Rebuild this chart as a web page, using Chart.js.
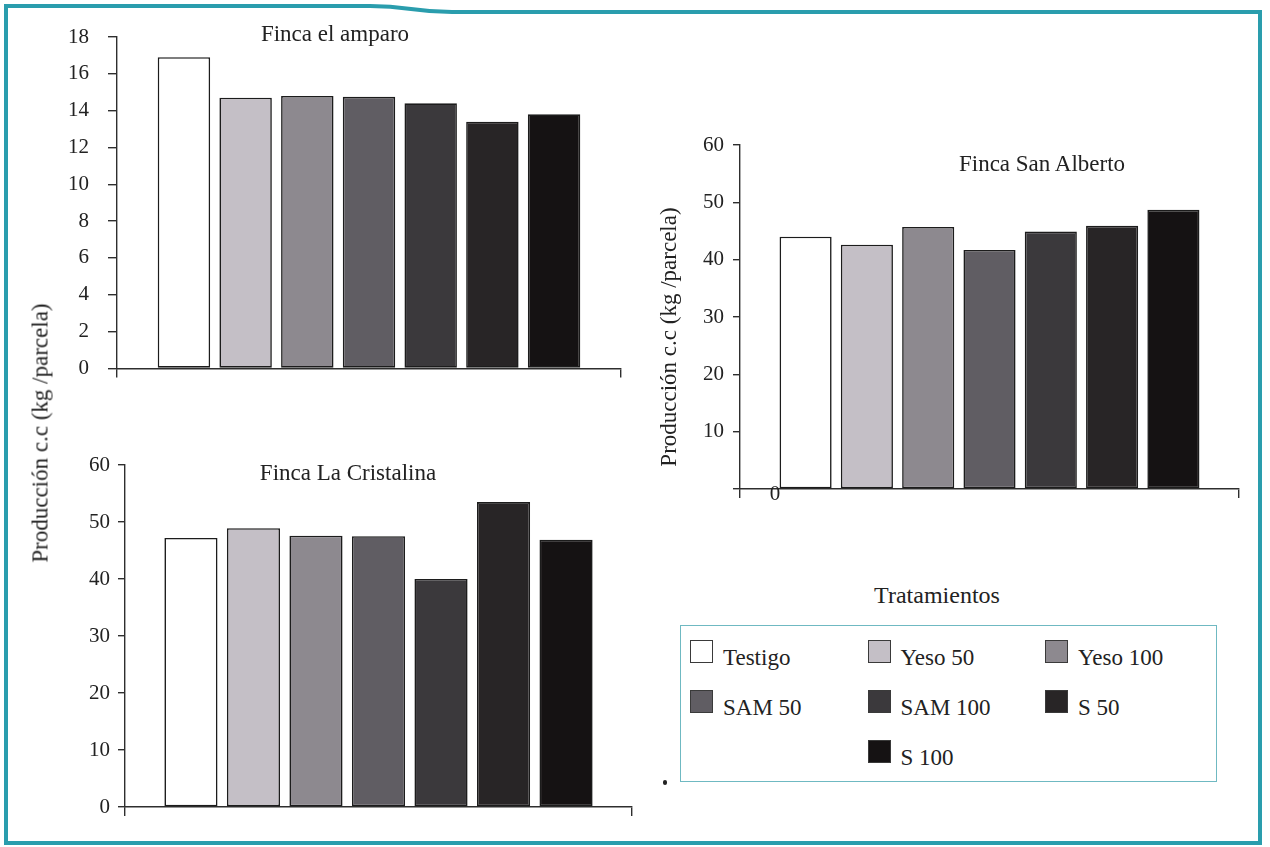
<!DOCTYPE html>
<html>
<head>
<meta charset="utf-8">
<script src="https://cdn.jsdelivr.net/npm/chart.js@4.4.1/dist/chart.umd.min.js"></script>
<style>
  html, body { margin: 0; padding: 0; background: #ffffff; }
  body {
    width: 1270px; height: 847px; position: relative; overflow: hidden;
    font-family: "Liberation Serif", "Times New Roman", serif; color: #222222;
  }
  .plot { position: absolute; }
  .frame { position: absolute; left: 0; top: 0; pointer-events: none; }
  .ytitle {
    position: absolute; font-size: 23px; white-space: nowrap; line-height: 1;
    transform: translate(-50%, -50%) rotate(-90deg);
  }
  .ctitle {
    position: absolute; font-size: 23px; line-height: 23px; white-space: nowrap;
    transform: translateX(-50%);
  }
  #legendTitle {
    position: absolute; left: 937px; top: 583px; font-size: 24px; line-height: 24px;
    transform: translateX(-50%); white-space: nowrap;
  }
  #legendBox {
    position: absolute; left: 680px; top: 625px; width: 537px; height: 157px;
    box-sizing: border-box; border: 1.5px solid #6fb9c2;
    padding: 14px 0 0 9px;
    display: grid; grid-template-columns: repeat(3, 177.5px); grid-auto-rows: 50px;
  }
  .item { display: flex; align-items: flex-start; }
  .swatch { width: 23px; height: 23px; box-sizing: border-box; border: 1.5px solid #3a3a3a; flex: none; }
  .label { font-size: 23px; line-height: 23px; margin-left: 10px; margin-top: 6px; white-space: nowrap; }
  #dot { position: absolute; left: 663px; top: 780px; width: 4px; height: 5px; border-radius: 2px; background: #222; }
</style>
</head>
<body>

<svg class="frame" width="1270" height="847">
  <path d="M6,843 L6,6 L370,6 C410,6 412,12 452,12 L1260,12 L1260,843 Z"
        fill="none" stroke="#2a9dad" stroke-width="4"/>
</svg>

<canvas id="amparo" class="plot" width="640" height="400" style="left:0px;top:0px;"></canvas>
<canvas id="cristalina" class="plot" width="650" height="420" style="left:0px;top:420px;"></canvas>
<canvas id="sanAlberto" class="plot" width="610" height="420" style="left:650px;top:100px;"></canvas>

<div class="ctitle" style="left:335px;top:22px;">Finca el amparo</div>
<div class="ctitle" style="left:348px;top:461px;">Finca La Cristalina</div>
<div class="ctitle" style="left:1042px;top:152px;">Finca San Alberto</div>

<div class="ytitle" style="left:40px;top:433px;">Producción c.c (kg /parcela)</div>
<div class="ytitle" style="left:668px;top:337px;">Producción c.c (kg /parcela)</div>

<div id="legendTitle">Tratamientos</div>
<div id="legendBox"></div>
<div id="dot"></div>

<script>
// Treatments (same order in every farm) and their bar fills
const treatments = ['Testigo', 'Yeso 50', 'Yeso 100', 'SAM 50', 'SAM 100', 'S 50', 'S 100'];
const fillColors = ['#ffffff', '#c4bfc6', '#8d898f', '#605d63', '#3b393c', '#282526', '#151213'];

// Production per plot (kg/parcela) for each farm
const amparoValues     = [16.9, 14.7, 14.8, 14.75, 14.4, 13.4, 13.8];
const cristalinaValues = [47.2, 48.9, 47.6, 47.5, 40.0, 53.5, 46.9];
const sanAlbertoValues = [44.0, 42.6, 45.7, 41.7, 44.9, 45.9, 48.7];

// Y-axis tick labels
const amparoTicks = [0, 2, 4, 6, 8, 10, 12, 14, 16, 18];
const yieldTicks  = [0, 10, 20, 30, 40, 50, 60];

const AXIS_COLOR = '#2e2e2e';
const FONT_FAMILY = "'Liberation Serif', serif";
Chart.defaults.font.family = FONT_FAMILY;

// Draws the zero label of the San Alberto axis, which sits to the right of the axis
const zeroLabelPlugin = {
  id: 'zeroLabel',
  afterDraw(chart, args, opts) {
    if (!opts.show) return;
    const { ctx, chartArea, scales } = chart;
    const y0 = scales.y.getPixelForValue(0);
    ctx.save();
    ctx.fillStyle = '#222222';
    ctx.font = '21px ' + FONT_FAMILY;
    ctx.textAlign = 'center';
    ctx.textBaseline = 'middle';
    ctx.fillText('0', chartArea.left + 35, y0 + 5);
    ctx.restore();
  }
};

function buildChart(id, values, ticks, cfg) {
  return new Chart(document.getElementById(id), {
    type: 'bar',
    data: {
      datasets: [{
        data: values.map((v, i) => ({ x: i, y: v })),
        backgroundColor: fillColors,
        borderColor: '#1c1c1c',
        borderWidth: 1.6,
        borderSkipped: false,
        barPercentage: 0.85,
        categoryPercentage: 1
      }]
    },
    options: {
      responsive: false,
      animation: false,
      events: [],
      layout: { padding: { top: cfg.top, right: cfg.right, left: 0, bottom: 0 } },
      plugins: {
        legend: { display: false },
        tooltip: { enabled: false },
        zeroLabel: { show: !!cfg.zeroBeside }
      },
      scales: {
        x: {
          type: 'linear',
          offset: false,
          min: -cfg.side,
          max: treatments.length - 1 + cfg.side,
          afterBuildTicks: s => { s.ticks = [{ value: s.min }, { value: s.max }]; },
          afterFit: s => { s.height = cfg.bottom; },
          ticks: { display: false },
          grid: { offset: false, drawOnChartArea: false, drawTicks: true, tickLength: 9, color: AXIS_COLOR, lineWidth: 1.4 },
          border: { display: true, color: AXIS_COLOR, width: 1.4 }
        },
        y: {
          min: 0,
          max: ticks[ticks.length - 1],
          afterBuildTicks: s => { s.ticks = ticks.map(v => ({ value: v })); },
          afterFit: s => { s.width = cfg.yWidth; },
          ticks: {
            color: '#222222',
            font: { family: FONT_FAMILY, size: 21 },
            padding: cfg.labelPad,
            callback: v => (cfg.zeroBeside && v === 0) ? '' : String(v)
          },
          grid: { drawOnChartArea: false, drawTicks: true, tickLength: cfg.tickLen, color: AXIS_COLOR, lineWidth: 1.4 },
          border: { display: true, color: AXIS_COLOR, width: 1.4 }
        }
      }
    },
    plugins: [zeroLabelPlugin]
  });
}

buildChart('amparo', amparoValues, amparoTicks,
  { top: 37, right: 19, bottom: 24, yWidth: 117, side: 1.085, tickLen: 9, labelPad: 19 });
buildChart('cristalina', cristalinaValues, yieldTicks,
  { top: 45, right: 18, bottom: 33, yWidth: 125, side: 1.055, tickLen: 7, labelPad: 8 });
buildChart('sanAlberto', sanAlbertoValues, yieldTicks,
  { top: 45, right: 21, bottom: 31, yWidth: 90, side: 1.07, tickLen: 7, labelPad: 9, zeroBeside: true });

// Treatment legend: three columns, last lone entry centred in the middle column
const legendBox = document.getElementById('legendBox');
treatments.forEach((name, i) => {
  const item = document.createElement('div');
  item.className = 'item';
  if (i === treatments.length - 1 && treatments.length % 3 === 1) item.style.gridColumn = '2';
  const sw = document.createElement('div');
  sw.className = 'swatch';
  sw.style.background = fillColors[i];
  const lb = document.createElement('div');
  lb.className = 'label';
  lb.textContent = name;
  item.appendChild(sw);
  item.appendChild(lb);
  legendBox.appendChild(item);
});
</script>
</body>
</html>
